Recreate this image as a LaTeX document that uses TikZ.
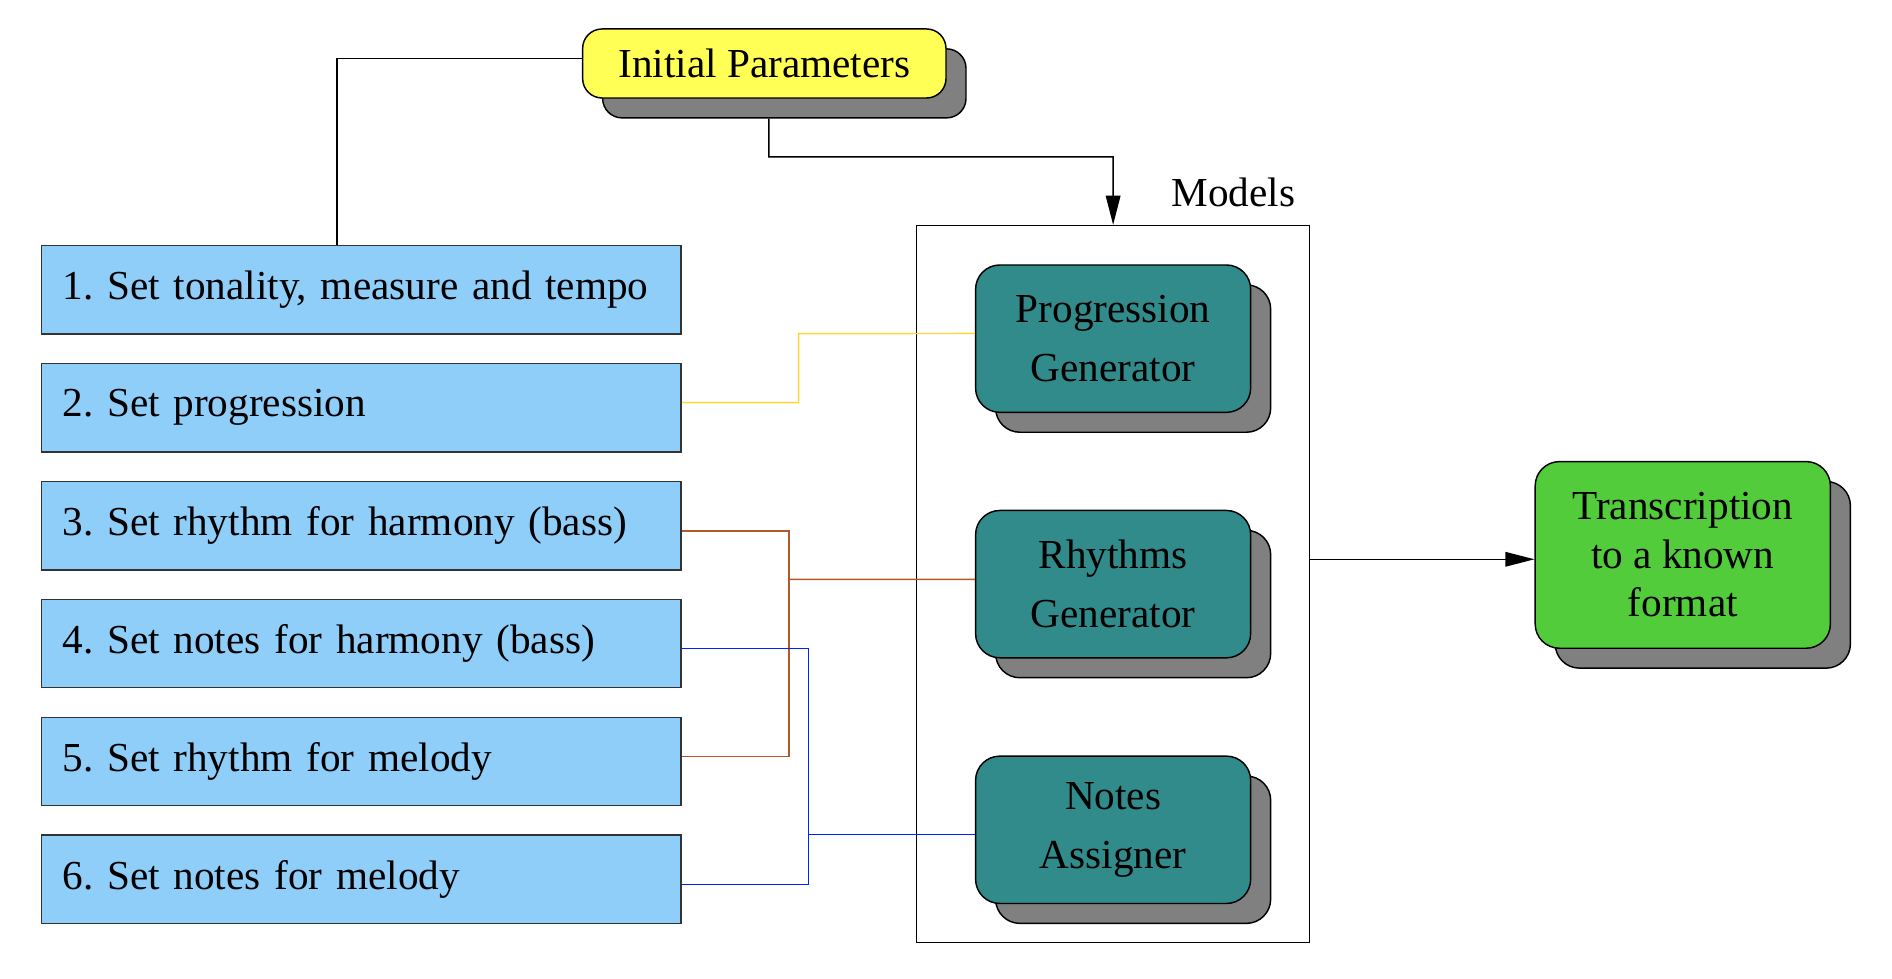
\documentclass[tikz,border=0pt]{standalone}
\usepackage{fontspec}
\setmainfont{Liberation Serif}
\newfontfamily\stepfont[WordSpace=0.8]{Liberation Serif}
\usetikzlibrary{arrows.meta,shadows}

\definecolor{stepblue}{RGB}{144,206,250}
\definecolor{modelteal}{RGB}{49,139,139}
\definecolor{outgreen}{RGB}{82,204,58}
\definecolor{inityellow}{RGB}{255,255,85}
\definecolor{goldline}{RGB}{255,214,51}
\definecolor{brownline}{RGB}{179,89,41}
\definecolor{blueline}{RGB}{0,34,255}

\tikzset{every picture/.style={line width=0.6pt}}
\tikzset{
  boxshadow/.style={drop shadow={shadow xshift=8.25pt,shadow yshift=-8.2pt,opacity=1,fill=black!50,draw=black,line width=0.6pt}},
  stepbox/.style={draw=black!80,fill=stepblue,minimum width=263.65pt,minimum height=36.4pt,text width=246.35pt,inner xsep=8.65pt,align=left,font=\stepfont\fontsize{17}{24}\selectfont\frenchspacing},
  modelbox/.style={draw=black,fill=modelteal,rounded corners=10pt,minimum width=113.4pt,minimum height=60.75pt,align=center,boxshadow,font=\fontsize{17}{24.5}\selectfont},
  initbox/.style={draw=black,fill=inityellow,rounded corners=8pt,minimum width=149.8pt,minimum height=28.45pt,boxshadow,font=\fontsize{17}{24}\selectfont},
  outbox/.style={draw=black,fill=outgreen,rounded corners=10pt,minimum width=121.7pt,minimum height=76.95pt,align=center,boxshadow,font=\fontsize{17}{20}\selectfont},
  frame/.style={draw=black,minimum width=162pt,minimum height=295.6pt},
  flowarrow/.style={-{Triangle[length=12pt,width=6pt]}}
}

\begin{document}
\begin{tikzpicture}[x=0.5pt,y=0.5pt,yscale=-1,xscale=1]
	\useasboundingbox (0,0) rectangle (1560,806.4);

	%Models frame
	\node[frame] (models) at (917.8,481.6) {};
	\node[anchor=base,font=\fontsize{17}{24}\selectfont] (modelslabel) at (1017,170.4) {Models};

	%Steps
	\node[stepbox] (box1) at (297.9,239) {1. Set tonality, measure and tempo};
	\node[stepbox] (box2) at (297.9,336.2) {2. Set progression};
	\node[stepbox] (box3) at (297.9,433.4) {3. Set rhythm for harmony (bass)};
	\node[stepbox] (box4) at (297.9,530.6) {4. Set notes for harmony (bass)};
	\node[stepbox] (box5) at (297.9,627.8) {5. Set rhythm for melody};
	\node[stepbox] (box6) at (297.9,725) {6. Set notes for melody};

	%Models
	\node[modelbox] (prog) at (917.8,279.25) {Progression\\Generator};
	\node[modelbox] (rhythm) at (917.8,481.65) {Rhythms\\Generator};
	\node[modelbox] (notes) at (917.8,684.2) {Notes\\Assigner};

	%Initial parameters and output
	\node[initbox] (init) at (630.2,52.35) {Initial Parameters};
	\node[outbox] (trans) at (1387.5,457.55) {Transcription\\to a known\\format};

	%Bends
	\coordinate (initdrop) at (634,129.4);
	\coordinate (goldbend) at (658.5,275.1);
	\coordinate (brownbus) at (650.5,477.7);
	\coordinate (bluebus) at (666.7,688.2);
	\coordinate (outlevel) at ([yshift=1.8pt]trans.west);

	%Black connectors
	\draw ([yshift=-2.1pt]init.west) -| ([xshift=-10pt]box1.north);
	\draw[flowarrow] ([xshift=1.9pt,yshift=8.2pt]init.south) -- (initdrop) -| (models.north);
	\draw[flowarrow] (models.east |- outlevel) -- (outlevel);

	%Coloured connectors
	\draw[goldline] ([yshift=-2.15pt]box2.east) -| (goldbend) -- ([yshift=-2.15pt]prog.west);
	\draw[brownline] ([yshift=2.2pt]box3.east) -| (brownbus) |- ([yshift=-2pt]box5.east);
	\draw[brownline] (brownbus) -- ([yshift=-2pt]rhythm.west);
	\draw[blueline] ([yshift=2.15pt]box4.east) -| (bluebus) |- ([yshift=2.25pt]box6.east);
	\draw[blueline] (bluebus) -- ([yshift=2pt]notes.west);

\end{tikzpicture}
\end{document}
